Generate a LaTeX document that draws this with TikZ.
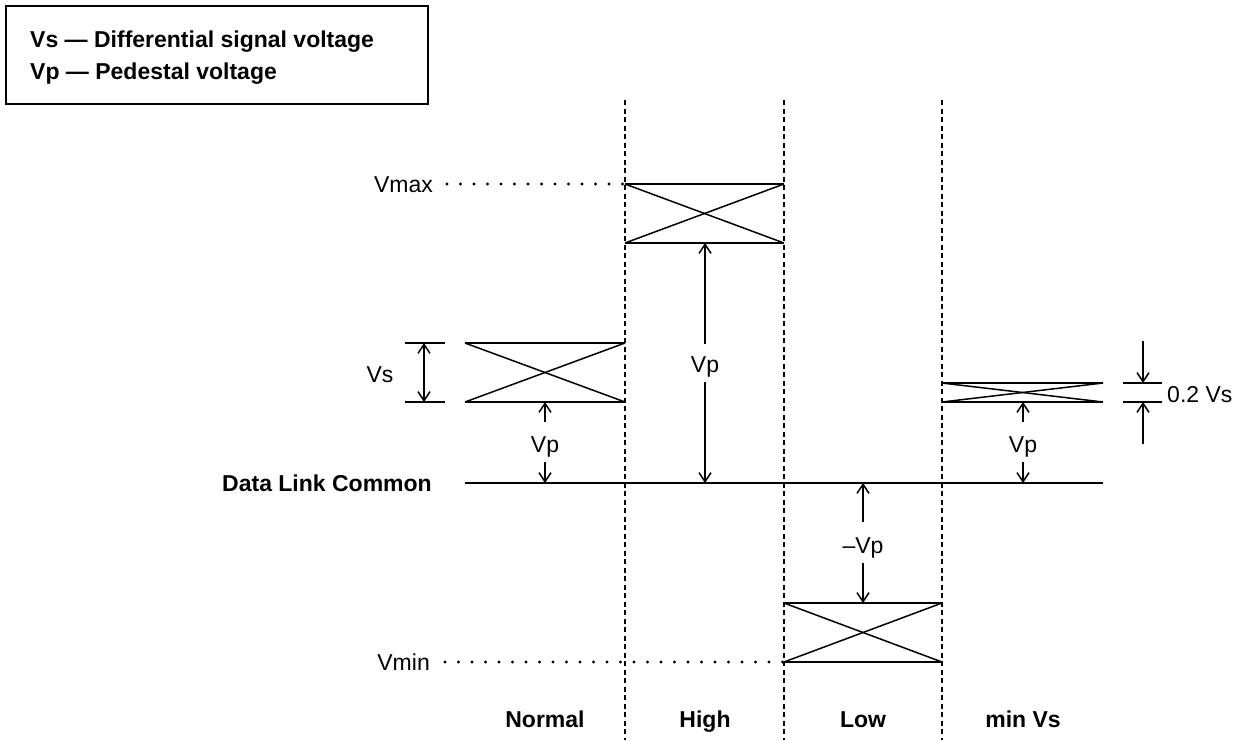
\documentclass[tikz,border=0pt]{standalone}
\usepackage{fontspec}
\setmainfont{Liberation Sans}
\usetikzlibrary{arrows.meta}
\begin{document}
\begin{tikzpicture}[x=1pt,y=-1pt,
  lbl/.style={font=\fontsize{23}{27}\selectfont, inner sep=0pt},
  blbl/.style={font=\fontsize{23}{27}\selectfont\bfseries, inner sep=0pt},
  bot/.style={font=\fontsize{23}{27}\selectfont\bfseries, inner sep=0pt, anchor=base},
  bar/.style={line width=2pt},
  cross/.style={line width=1.5pt},
  divider/.style={line width=1.5pt, dash pattern=on 5pt off 3.5pt},
  dots/.style={line width=3.2pt, line cap=round, dash pattern=on 0pt off 13.5pt},
  dim/.style={line width=1.5pt, -{Straight Barb[length=9pt,width=12pt,line width=1.5pt]}},
  dimboth/.style={line width=1.5pt, {Straight Barb[length=9pt,width=12pt,line width=1.5pt]}-{Straight Barb[length=9pt,width=12pt,line width=1.5pt]}},
  tick/.style={line width=1.5pt},
]
\useasboundingbox (0,0) rectangle (1240,740);

% legend
\node (legend) [draw, line width=1.5pt, anchor=north west, minimum width=422pt, minimum height=98pt, inner sep=0pt] at (5,5) {};
\node (leg1) [blbl, anchor=base west] at (30,47) {Vs — Differential signal voltage};
\node (leg2) [blbl, anchor=base west] at (30,79) {Vp — Pedestal voltage};

% dividers
\coordinate (d1t) at (625,100); \coordinate (d1b) at (625,740);
\coordinate (d2t) at (784,100); \coordinate (d2b) at (784,740);
\coordinate (d3t) at (942,100); \coordinate (d3b) at (942,740);
\draw[divider] (d1t) -- (d1b);
\draw[divider] (d2t) -- (d2b);
\draw[divider] (d3t) -- (d3b);

% common line
\node (dlc) [blbl, anchor=base east] at (432,491) {Data Link Common};
\coordinate (cL) at (465,483); \coordinate (cR) at (1103,483);
\draw[bar] (cL) -- (cR);

% Normal box
\coordinate (nTL) at (465,343); \coordinate (nTR) at (625,343);
\coordinate (nBL) at (465,402); \coordinate (nBR) at (625,402);
\draw[bar] (nTL) -- (nTR); \draw[bar] (nBL) -- (nBR);
\draw[cross] (nTL) -- (nBR); \draw[cross] (nBL) -- (nTR);

% High box
\coordinate (hTL) at (625,184); \coordinate (hTR) at (784,184);
\coordinate (hBL) at (625,243); \coordinate (hBR) at (784,243);
\draw[bar] (hTL) -- (hTR); \draw[bar] (hBL) -- (hBR);
\draw[cross] (hTL) -- (hBR); \draw[cross] (hBL) -- (hTR);

% Low box
\coordinate (lTL) at (784,603); \coordinate (lTR) at (942,603);
\coordinate (lBL) at (784,662); \coordinate (lBR) at (942,662);
\draw[bar] (lTL) -- (lTR); \draw[bar] (lBL) -- (lBR);
\draw[cross] (lTL) -- (lBR); \draw[cross] (lBL) -- (lTR);

% min Vs box
\coordinate (mTL) at (942,383); \coordinate (mTR) at (1103,383);
\coordinate (mBL) at (942,402); \coordinate (mBR) at (1103,402);
\draw[bar] (mTL) -- (mTR); \draw[bar] (mBL) -- (mBR);
\draw[cross] (mTL) -- (mBR); \draw[cross] (mBL) -- (mTR);

% Vmax / Vmin
\node (vmax) [lbl, anchor=base east] at (433,192) {Vmax};
\coordinate (vmaxd) at (447,184);
\draw[dots] (vmaxd) -- (hTL);
\node (vmin) [lbl, anchor=base east] at (430,670) {Vmin};
\coordinate (vmind) at (445,662);
\draw[dots] (vmind) -- (lBL);

% Vs dimension
\coordinate (vsT1) at (405,343); \coordinate (vsT2) at (445,343);
\coordinate (vsB1) at (405,402); \coordinate (vsB2) at (445,402);
\draw[tick] (vsT1) -- (vsT2); \draw[tick] (vsB1) -- (vsB2);
\coordinate (vsA) at (424,343); \coordinate (vsB) at (424,402);
\draw[dimboth] (vsA) -- (vsB);
\node (vs) [lbl, anchor=base] at (380,382) {Vs};

% Normal Vp
\node (vpn) [lbl, anchor=base] at (545,452) {Vp};
\coordinate (vpnU) at (545,422); \coordinate (vpnUh) at (545,402);
\coordinate (vpnD) at (545,462); \coordinate (vpnDh) at (545,483);
\draw[dim] (vpnU) -- (vpnUh);
\draw[dim] (vpnD) -- (vpnDh);

% High Vp
\node (vph) [lbl, anchor=base] at (705,372) {Vp};
\coordinate (vphU) at (705,344); \coordinate (vphUh) at (705,243);
\coordinate (vphD) at (705,382); \coordinate (vphDh) at (705,483);
\draw[dim] (vphU) -- (vphUh);
\draw[dim] (vphD) -- (vphDh);

% Low -Vp
\node (vpl) [lbl, anchor=base] at (863,553) {–Vp};
\coordinate (vplU) at (863,522); \coordinate (vplUh) at (863,483);
\coordinate (vplD) at (863,563); \coordinate (vplDh) at (863,603);
\draw[dim] (vplU) -- (vplUh);
\draw[dim] (vplD) -- (vplDh);

% min Vs Vp
\node (vpm) [lbl, anchor=base] at (1023,452) {Vp};
\coordinate (vpmU) at (1023,422); \coordinate (vpmUh) at (1023,402);
\coordinate (vpmD) at (1023,462); \coordinate (vpmDh) at (1023,483);
\draw[dim] (vpmU) -- (vpmUh);
\draw[dim] (vpmD) -- (vpmDh);

% 0.2 Vs dimension
\coordinate (sT1) at (1123,383); \coordinate (sT2) at (1162,383);
\coordinate (sB1) at (1123,402); \coordinate (sB2) at (1162,402);
\draw[tick] (sT1) -- (sT2); \draw[tick] (sB1) -- (sB2);
\coordinate (sA) at (1143,341); \coordinate (sAh) at (1143,383);
\coordinate (sB) at (1143,444); \coordinate (sBh) at (1143,402);
\draw[dim] (sA) -- (sAh);
\draw[dim] (sB) -- (sBh);
\node (s02) [lbl, anchor=base west] at (1167,402) {0.2 Vs};

% bottom labels
\node (bn) [bot] at (545,727) {Normal};
\node (bh) [bot] at (705,727) {High};
\node (bl) [bot] at (863,727) {Low};
\node (bm) [bot] at (1023,727) {min Vs};
\end{tikzpicture}
\end{document}
